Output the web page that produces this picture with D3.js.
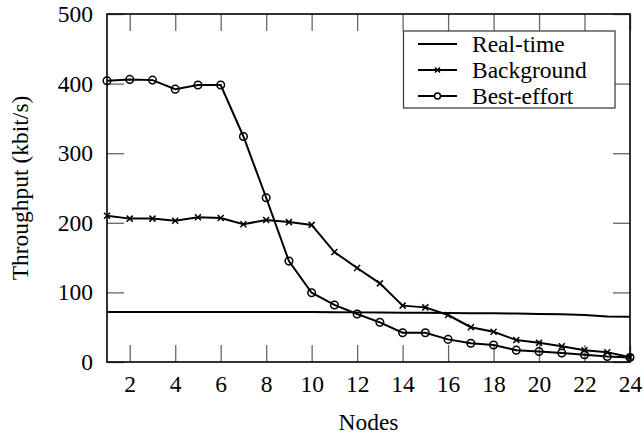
<!DOCTYPE html>
<html>
<head>
<meta charset="utf-8">
<script src="https://cdn.jsdelivr.net/npm/d3@7"></script>
</head>
<body style="margin:0">
<div class="box"></div>
<script>
// données
const nodes = d3.range(1, 25);
const realTime = [72, 72, 72, 72, 72, 72, 72, 72, 72, 71.8, 71.5, 71.3, 71, 70.8, 70.6, 70.4, 70.2, 70, 69.6, 69, 68.5, 67.5, 65.5, 65];
const background = [210, 206, 206, 203, 208, 207, 198, 204, 201, 197, 158, 135, 113, 81, 78.5, 67.5, 50, 43.5, 31.5, 27.5, 22.5, 17, 14, 7];
const bestEffort = [404, 406, 405, 392, 398, 398, 324, 236, 145, 99.5, 82, 69, 57, 42, 42, 32.5, 27, 24.5, 17, 15, 13, 10.5, 8, 6.5];
const xTicks = [2, 4, 6, 8, 10, 12, 14, 16, 18, 20, 22, 24];
const yTicks = [0, 100, 200, 300, 400, 500];
const seriesNames = ['Real-time', 'Background', 'Best-effort'];

const dims = {left: 107, right: 630, top: 14, bottom: 362};

const police = '"Liberation Serif"';
const fs = '23.5px';
const tickLen = 17;

const svg = d3.select('.box')
              .append('svg')
              .attr('width', 644)
              .attr('height', 436)
              .style('font-family', police);

const x = d3.scaleLinear().domain([1, 24]).range([dims.left, dims.right]);
const y = d3.scaleLinear().domain([0, 500]).range([dims.bottom, dims.top]);

// axes (ticks vers l'intérieur)
const axB = svg.append('g')
               .attr('transform', `translate(0, ${dims.bottom})`)
               .call(d3.axisBottom(x).tickValues(xTicks).tickSize(-tickLen).tickPadding(13));
const axT = svg.append('g')
               .attr('transform', `translate(0, ${dims.top})`)
               .call(d3.axisTop(x).tickValues(xTicks).tickSize(-tickLen).tickFormat(''));
const axL = svg.append('g')
               .attr('transform', `translate(${dims.left}, 0)`)
               .call(d3.axisLeft(y).tickValues(yTicks).tickSize(-tickLen).tickPadding(14));
const axR = svg.append('g')
               .attr('transform', `translate(${dims.right}, 0)`)
               .call(d3.axisRight(y).tickValues(yTicks).tickSize(-tickLen).tickFormat(''));

[axB, axT, axL, axR].forEach(a => {
    a.attr('font-family', null).attr('font-size', null);
    a.select('.domain').remove();
    a.selectAll('line').attr('stroke', '#666').attr('stroke-width', 1.3);
    a.selectAll('text')
     .style('font-family', police)
     .style('font-size', fs)
     .attr('fill', '#000');
});

// courbes
const line = (vals) => d3.line()
                         .x((d, i) => x(nodes[i]))
                         .y(d => y(d))(vals);

const graph = svg.append('g');

[realTime, background, bestEffort].forEach(vals => {
    graph.append('path')
         .attr('d', line(vals))
         .attr('fill', 'none')
         .attr('stroke', '#000')
         .attr('stroke-width', 2);
});

const cross = (g, cx, cy, s) => {
    g.append('path')
     .attr('d', `M${cx - s},${cy - s}L${cx + s},${cy + s}M${cx - s},${cy + s}L${cx + s},${cy - s}`)
     .attr('stroke', '#000')
     .attr('stroke-width', 1.5);
};

background.forEach((d, i) => cross(graph, x(nodes[i]), y(d), 3));

graph.selectAll('circle.be')
     .data(bestEffort)
     .enter()
     .append('circle')
     .attr('class', 'be')
     .attr('cx', (d, i) => x(nodes[i]))
     .attr('cy', d => y(d))
     .attr('r', 3.8)
     .attr('fill', 'none')
     .attr('stroke', '#000')
     .attr('stroke-width', 1.5);

// cadre
svg.append('rect')
   .attr('x', dims.left)
   .attr('y', dims.top)
   .attr('width', dims.right - dims.left)
   .attr('height', dims.bottom - dims.top)
   .attr('fill', 'none')
   .attr('stroke', '#000')
   .attr('stroke-width', 1.6);

// titres des axes
svg.append('text')
   .attr('x', (dims.left + dims.right) / 2)
   .attr('y', 430)
   .attr('text-anchor', 'middle')
   .style('font-family', police)
   .style('font-size', fs)
   .text('Nodes');

svg.append('text')
   .attr('transform', `translate(28, ${(dims.top + dims.bottom) / 2}) rotate(-90)`)
   .attr('text-anchor', 'middle')
   .style('font-family', police)
   .style('font-size', fs)
   .text('Throughput (kbit/s)');

// légende
const leg = svg.append('g');
leg.append('rect')
   .attr('x', 403.5)
   .attr('y', 31)
   .attr('width', 211.5)
   .attr('height', 77)
   .attr('fill', '#fff')
   .attr('stroke', '#333')
   .attr('stroke-width', 1.2);

const rowY = [44, 70, 96];
seriesNames.forEach((nom, i) => {
    leg.append('line')
       .attr('x1', 418).attr('x2', 457)
       .attr('y1', rowY[i]).attr('y2', rowY[i])
       .attr('stroke', '#000')
       .attr('stroke-width', 2);
    if (i === 1) cross(leg, 437.5, rowY[i], 2.5);
    if (i === 2) {
        leg.append('circle')
           .attr('cx', 437.5).attr('cy', rowY[i]).attr('r', 3)
           .attr('fill', '#fff').attr('stroke', '#000').attr('stroke-width', 1.5);
    }
    leg.append('text')
       .attr('x', 472)
       .attr('y', rowY[i])
       .attr('dy', '0.33em')
       .style('font-family', police)
       .style('font-size', fs)
       .text(nom);
});
</script>
</body>
</html>
